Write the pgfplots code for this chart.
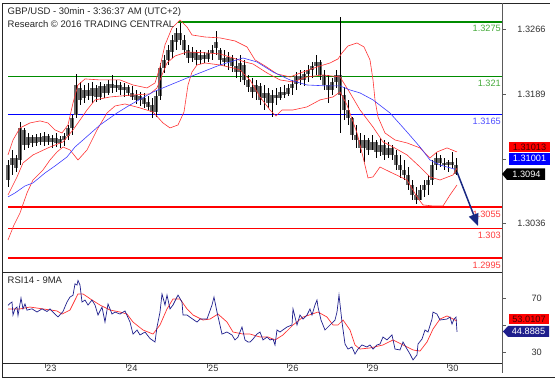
\documentclass[border=0pt]{standalone}
\usepackage{pgfplots}
\pgfplotsset{compat=1.18}
\usepackage{pgfplotstable}
\usepackage{fontspec}
\setmainfont{Liberation Sans}
\usetikzlibrary{arrows.meta}
\definecolor{lvgreen}{RGB}{0,140,0}
\definecolor{lvgreentxt}{RGB}{70,170,60}
\definecolor{lvblue}{RGB}{0,0,255}
\definecolor{lvbluetxt}{RGB}{80,80,255}
\definecolor{lvred}{RGB}{255,0,0}
\definecolor{lvredtxt}{RGB}{255,60,60}
\definecolor{bandred}{RGB}{255,50,50}
\definecolor{mablue}{RGB}{60,60,255}
\definecolor{rsinavy}{RGB}{30,30,140}
\definecolor{arrownavy}{RGB}{25,40,130}
\definecolor{candlegrey}{RGB}{105,105,105}
\definecolor{darkredtxt}{RGB}{70,0,0}
\definecolor{axisgrey}{RGB}{90,90,90}
\newcommand{\tf}{\fontsize{9.5}{11}\selectfont}
\newcommand{\rf}{\fontsize{9.2}{11}\selectfont}

\pgfplotstableread{
x hi lo o c
8 1.31111 1.30791 1.30874 1.31052
12 1.31230 1.30933 1.31052 1.31135
16 1.31171 1.30969 1.31135 1.31016
20 1.31562 1.31052 1.31111 1.31491
24 1.31491 1.31230 1.31467 1.31289
28 1.31431 1.31254 1.31289 1.31384
32 1.31408 1.31265 1.31384 1.31313
36 1.31419 1.31277 1.31313 1.31384
40 1.31431 1.31289 1.31384 1.31325
44 1.31443 1.31277 1.31325 1.31396
48 1.31419 1.31289 1.31396 1.31325
52 1.31408 1.31254 1.31325 1.31372
56 1.31431 1.31265 1.31372 1.31313
60 1.31396 1.31254 1.31313 1.31360
64 1.31431 1.31277 1.31348 1.31396
68 1.31526 1.31348 1.31396 1.31491
72 1.31645 1.31408 1.31491 1.31609
76 1.32131 1.31609 1.31645 1.32000
80 1.32036 1.31763 1.31965 1.31823
84 1.32000 1.31787 1.31846 1.31941
88 1.32024 1.31823 1.31941 1.31870
92 1.32036 1.31787 1.31870 1.31965
96 1.32000 1.31799 1.31965 1.31858
100 1.32036 1.31823 1.31858 1.31989
104 1.32012 1.31846 1.31989 1.31906
108 1.32060 1.31882 1.31906 1.32012
112 1.32119 1.31906 1.32012 1.31965
116 1.32060 1.31917 1.31965 1.32000
120 1.32036 1.31882 1.32000 1.31941
124 1.32024 1.31858 1.31941 1.31977
128 1.32000 1.31870 1.31977 1.31906
132 1.31989 1.31823 1.31906 1.31858
136 1.31941 1.31775 1.31882 1.31823
140 1.31917 1.31751 1.31823 1.31870
144 1.31906 1.31728 1.31846 1.31775
148 1.31870 1.31704 1.31799 1.31740
152 1.31846 1.31609 1.31763 1.31680
156 1.31941 1.31621 1.31680 1.31870
160 1.32261 1.31823 1.31870 1.32202
164 1.32356 1.32143 1.32202 1.32297
168 1.32475 1.32237 1.32297 1.32415
172 1.32593 1.32320 1.32392 1.32534
176 1.32676 1.32415 1.32510 1.32617
180 1.32735 1.32475 1.32617 1.32534
184 1.32593 1.32356 1.32534 1.32415
188 1.32475 1.32261 1.32415 1.32320
192 1.32451 1.32273 1.32320 1.32392
196 1.32415 1.32237 1.32392 1.32297
200 1.32415 1.32249 1.32297 1.32356
204 1.32392 1.32261 1.32356 1.32309
208 1.32415 1.32273 1.32309 1.32380
212 1.32475 1.32297 1.32380 1.32415
216 1.32641 1.32356 1.32439 1.32510
220 1.32439 1.32237 1.32415 1.32297
224 1.32415 1.32226 1.32320 1.32273
228 1.32392 1.32178 1.32273 1.32332
232 1.32356 1.32154 1.32320 1.32226
236 1.32320 1.32083 1.32226 1.32154
240 1.32356 1.32036 1.32154 1.32261
244 1.32297 1.32000 1.32237 1.32060
248 1.32119 1.31917 1.32060 1.31977
252 1.32083 1.31846 1.31977 1.31917
256 1.32060 1.31823 1.31917 1.32000
260 1.32024 1.31763 1.31989 1.31823
264 1.32000 1.31704 1.31846 1.31906
268 1.31965 1.31728 1.31906 1.31787
272 1.31941 1.31621 1.31787 1.31882
276 1.31965 1.31763 1.31882 1.31846
280 1.31977 1.31823 1.31846 1.31917
284 1.32000 1.31846 1.31917 1.31882
288 1.32012 1.31870 1.31894 1.31965
292 1.32060 1.31882 1.31965 1.32012
296 1.32154 1.31941 1.32012 1.32107
300 1.32178 1.32000 1.32107 1.32060
304 1.32178 1.31989 1.32060 1.32131
308 1.32237 1.32036 1.32131 1.32178
312 1.32273 1.32083 1.32178 1.32226
316 1.32356 1.32119 1.32226 1.32273
320 1.32297 1.32060 1.32273 1.32119
324 1.32178 1.31941 1.32119 1.32000
328 1.32119 1.31787 1.32000 1.31941
332 1.32083 1.31882 1.31941 1.32036
336 1.32178 1.31965 1.32036 1.32119
340 1.32807 1.31431 1.32119 1.31882
344 1.31977 1.31585 1.31882 1.31704
348 1.31823 1.31526 1.31704 1.31609
352 1.31621 1.31348 1.31609 1.31408
356 1.31526 1.31254 1.31408 1.31348
360 1.31431 1.31194 1.31348 1.31254
364 1.31408 1.31088 1.31254 1.31348
368 1.31372 1.31171 1.31348 1.31230
372 1.31408 1.31230 1.31230 1.31325
376 1.31348 1.31135 1.31325 1.31206
380 1.31372 1.31159 1.31206 1.31289
384 1.31348 1.31111 1.31289 1.31171
388 1.31325 1.31135 1.31171 1.31254
392 1.31289 1.31111 1.31254 1.31171
396 1.31230 1.30993 1.31171 1.31052
400 1.31171 1.30898 1.31052 1.30993
404 1.31111 1.30874 1.30993 1.30933
408 1.31028 1.30756 1.30933 1.30815
412 1.30874 1.30637 1.30815 1.30696
416 1.30791 1.30590 1.30696 1.30637
420 1.30815 1.30637 1.30637 1.30756
424 1.30874 1.30673 1.30756 1.30815
428 1.30933 1.30696 1.30815 1.30874
432 1.31111 1.30815 1.30874 1.31052
436 1.31206 1.30993 1.31052 1.31135
440 1.31171 1.31028 1.31135 1.31076
444 1.31135 1.30993 1.31076 1.31052
448 1.31111 1.30969 1.31052 1.31088
452 1.31206 1.31016 1.31088 1.31052
456 1.31135 1.30933 1.31052 1.30945
}\candles

\begin{document}
\begin{tikzpicture}
\useasboundingbox (0,0) rectangle (557pt,380pt);

% ---------------- main price panel ----------------
\begin{axis}[at={(2pt,108pt)}, anchor=south west, scale only axis,
  width=500pt, height=269pt, xmin=2, xmax=502, ymin=1.29783, ymax=1.32972,
  axis line style={draw=none}, ticks=none, clip=false]

% level lines
\addplot[lvgreen, line width=1.6pt, forget plot] coordinates {(178,1.3275) (502,1.3275)};
\addplot[lvgreen, line width=1.6pt, forget plot] coordinates {(8,1.3210) (502,1.3210)};
\addplot[lvblue, line width=1.6pt, forget plot] coordinates {(8,1.3165) (502,1.3165)};
\addplot[lvred, line width=1.6pt, forget plot] coordinates {(8,1.3055) (502,1.3055)};
\addplot[lvred, line width=1.6pt, forget plot] coordinates {(8,1.3030) (502,1.3030)};
\addplot[lvred, line width=1.6pt, forget plot] coordinates {(8,1.2995) (502,1.2995)};

% candles: body (grey, thick) then wick (black, thin)
\addplot[draw=none, mark=none, forget plot,
  error bars/.cd, y dir=plus, y explicit, error mark=none,
  error bar style={line width=3.2pt, candlegrey}]
  table[x=x, y=o, y error plus expr={\thisrow{c}-\thisrow{o}}] {\candles};
\addplot[draw=none, mark=none, forget plot,
  error bars/.cd, y dir=plus, y explicit, error mark=none,
  error bar style={line width=0.6pt, black}]
  table[x=x, y=lo, y error plus expr={\thisrow{hi}-\thisrow{lo}}] {\candles};

% Bollinger upper
\addplot[bandred, line width=0.6pt] coordinates {
(8,1.31171) (13,1.31348) (20,1.31491) (30,1.31550) (40,1.31574) (48,1.31550) (55,1.31467) (62,1.31431) (68,1.31526) (73,1.31787) (78,1.32000) (85,1.32072) (100,1.32060) (120,1.32060) (133,1.32000) (147,1.31965) (155,1.32024) (160,1.32214) (165,1.32475) (172,1.32676) (180,1.32771) (187,1.32688) (192,1.32593) (205,1.32569) (220,1.32558) (235,1.32522) (247,1.32451) (255,1.32297) (265,1.32226) (277,1.32131) (290,1.32095) (303,1.32154) (317,1.32214) (330,1.32261) (338,1.32309) (342,1.32380) (348,1.32463) (357,1.32498) (364,1.32451) (370,1.32297) (373,1.32060) (375,1.31823) (378,1.31621) (385,1.31431) (395,1.31348) (407,1.31313) (420,1.31254) (430,1.31135) (437,1.31206) (447,1.31254) (457,1.31206)};
% Bollinger middle
\addplot[bandred, line width=0.6pt] coordinates {
(8,1.30696) (17,1.30910) (23,1.31076) (33,1.31171) (50,1.31265) (63,1.31325) (73,1.31467) (80,1.31585) (87,1.31704) (95,1.31823) (110,1.31858) (133,1.31882) (150,1.31894) (157,1.31965) (162,1.32119) (167,1.32261) (175,1.32344) (187,1.32392) (207,1.32380) (220,1.32368) (233,1.32320) (245,1.32273) (253,1.32249) (267,1.32143) (280,1.32060) (293,1.32036) (307,1.32095) (323,1.32119) (340,1.32095) (350,1.31906) (360,1.31704) (373,1.31502) (383,1.31325) (393,1.31265) (407,1.31171) (420,1.31028) (430,1.30910) (440,1.30874) (453,1.30933) (457,1.31013)};
% Bollinger lower
\addplot[bandred, line width=0.6pt] coordinates {
(8,1.30163) (14,1.30341) (20,1.30483) (27,1.30720) (33,1.30874) (43,1.30993) (50,1.31111) (57,1.31206) (63,1.31265) (70,1.31230) (78,1.31111) (87,1.31230) (97,1.31467) (107,1.31668) (115,1.31751) (125,1.31775) (140,1.31728) (153,1.31680) (163,1.31550) (170,1.31491) (178,1.31526) (184,1.31680) (188,1.32000) (192,1.32154) (197,1.32237) (205,1.32261) (220,1.32237) (233,1.32202) (240,1.32178) (250,1.32060) (260,1.31858) (270,1.31704) (276,1.31633) (282,1.31704) (293,1.31704) (307,1.31740) (320,1.31823) (333,1.31858) (340,1.31917) (347,1.31763) (357,1.31431) (363,1.31147) (368,1.30898) (373,1.30910) (380,1.31028) (390,1.30969) (407,1.30874) (417,1.30673) (423,1.30578) (433,1.30566) (443,1.30566) (450,1.30696) (457,1.30815)};
% moving average
\addplot[mablue, line width=0.6pt] coordinates {
(8,1.30673) (15,1.30720) (25,1.30803) (33,1.30839) (45,1.30957) (55,1.31040) (67,1.31147) (75,1.31265) (83,1.31348) (100,1.31526) (117,1.31668) (130,1.31763) (153,1.31917) (187,1.32083) (220,1.32237) (243,1.32320) (257,1.32273) (273,1.32154) (290,1.32060) (307,1.32000) (327,1.31989) (340,1.31989) (350,1.31941) (360,1.31906) (373,1.31823) (390,1.31668) (407,1.31443) (420,1.31265) (430,1.31111) (440,1.31052) (455,1.31001)};

% level labels
\node[anchor=east, inner sep=0, text=lvgreentxt, font=\rf] at ([yshift=-6.5pt]axis cs:501,1.3275) {1.3275};
\node[anchor=east, inner sep=0, text=lvgreentxt, font=\rf] at ([yshift=-6.5pt]axis cs:501,1.3210) {1.321};
\node[anchor=east, inner sep=0, text=lvbluetxt, font=\rf] at ([yshift=-6.5pt]axis cs:501,1.3165) {1.3165};
\node[anchor=east, inner sep=0, text=lvredtxt, font=\rf] at ([yshift=-7pt]axis cs:501,1.3055) {1.3055};
\node[anchor=east, inner sep=0, text=lvredtxt, font=\rf] at ([yshift=-7pt]axis cs:501,1.3030) {1.303};
\node[anchor=east, inner sep=0, text=lvredtxt, font=\rf] at ([yshift=-7pt]axis cs:501,1.2995) {1.2995};

% forecast arrow
\draw[arrownavy, line width=1.5pt, -{Triangle[length=12pt,width=10pt]}] (axis cs:457,1.30969) -- (axis cs:478,1.30329);

% right price scale
\draw[axisgrey, line width=0.6pt] (axis cs:502,1.3266) -- ++(4pt,0pt);
\draw[axisgrey, line width=0.6pt] (axis cs:502,1.3189) -- ++(4pt,0pt);
\draw[axisgrey, line width=0.6pt] (axis cs:502,1.3112) -- ++(4pt,0pt);
\draw[axisgrey, line width=0.6pt] (axis cs:502,1.3036) -- ++(4pt,0pt);
\node[font=\rf, inner sep=0, text=black!80] at ([xshift=29.5pt]axis cs:502,1.3266) {1.3266};
\node[font=\rf, inner sep=0, text=black!80] at ([xshift=29.5pt]axis cs:502,1.3189) {1.3189};
\node[font=\rf, inner sep=0, text=black!80] at ([xshift=29.5pt]axis cs:502,1.3036) {1.3036};
\end{axis}

% ---------------- RSI panel ----------------
\begin{axis}[at={(2pt,17pt)}, anchor=south west, scale only axis,
  width=500pt, height=91pt, xmin=2, xmax=502, ymin=21.85, ymax=89.26,
  axis line style={draw=none}, ticks=none, clip=false]
\addplot[bandred, line width=0.7pt] coordinates {
(8,61.9) (20,61.9) (30,63.3) (43,61.9) (57,60.4) (62,58.1) (70,61.1) (78,73.0) (83,73.0) (92,68.5) (100,64.8) (110,61.1) (120,59.6) (127,58.1) (133,52.2) (143,46.3) (153,43.3) (160,50.0) (167,61.9) (173,69.3) (180,69.3) (187,61.9) (193,57.4) (203,53.7) (210,54.4) (218,58.1) (227,52.2) (233,44.8) (243,43.3) (250,43.3) (260,41.1) (268,41.1) (275,38.9) (283,42.6) (293,50.0) (303,55.9) (312,58.1) (318,59.6) (327,55.9) (333,50.0) (338,50.0) (343,53.7) (350,46.3) (355,35.2) (360,32.2) (370,33.0) (383,35.2) (393,38.9) (403,35.2) (413,31.5) (420,30.7) (427,37.4) (433,47.0) (440,54.4) (447,56.7) (455,53.7) (457,53.01)};
\addplot[rsinavy, line width=0.7pt] coordinates {
(8,64.6) (10,66) (12,67) (13,57.4) (15,62) (17,63.3) (18,57) (21,70) (23,62) (25,65.6) (27,61) (32,62) (37,59.6) (42,62) (47,60) (50,61.9) (55,58) (58,56) (63,60) (67,67) (70,70.7) (73,72) (75,80.5) (77,79.6) (78,83) (80,79.6) (82,67) (85,68.5) (88,64.8) (92,68.5) (95,64.8) (98,57.4) (102,63.3) (105,52.2) (108,65.6) (112,58.1) (115,59.6) (120,58.1) (125,60.4) (130,52.2) (133,43.3) (137,46.3) (140,42.6) (145,44.8) (150,40) (155,37.4) (157,48.5) (160,59.6) (162,73) (165,64.8) (167,72.2) (170,61.9) (173,64.8) (178,72.2) (182,67) (183,57.4) (187,57.4) (192,54.7) (197,52.2) (200,54.4) (207,54.4) (212,64.8) (214,70.7) (217,59.6) (222,43.3) (227,44.8) (232,42.6) (235,38.9) (238,41.1) (242,48.5) (245,38.9) (248,37.4) (250,37.4) (253,39.6) (257,43.3) (260,44.8) (263,38.9) (267,41.1) (270,38.9) (273,39.6) (275,35.2) (277,46.3) (280,44.8) (287,48.5) (292,50) (293,61.9) (297,50) (300,57.4) (303,54.4) (307,57.4) (310,61.9) (312,57.4) (315,64.8) (317,68.5) (318,63.3) (321,53.7) (325,46.3) (330,50) (335,53.7) (337,59.6) (339,72.2) (342,52.2) (345,35.9) (348,32.2) (352,33.7) (355,28.5) (358,32.2) (362,35.2) (367,33.7) (370,35.2) (373,32.2) (377,35.2) (380,35.9) (383,41.1) (387,38.9) (392,42.6) (395,32.2) (400,31.5) (403,37.4) (407,32.2) (410,28.5) (413,24.1) (417,27.8) (418,35.9) (422,39.6) (425,46.3) (428,44.8) (432,54.4) (433,59.6) (437,58.1) (440,53.7) (447,54.4) (450,55.9) (452,50.7) (454,54.4) (456,55.9) (457,44.89)};

\draw[axisgrey, line width=0.6pt] (axis cs:502,70) -- ++(4pt,0pt);
\draw[axisgrey, line width=0.6pt] (axis cs:502,50) -- ++(4pt,0pt);
\draw[axisgrey, line width=0.6pt] (axis cs:502,30) -- ++(4pt,0pt);
\node[font=\rf, inner sep=0, text=black!80] at ([xshift=34.7pt]axis cs:502,70) {70};
\node[font=\rf, inner sep=0, text=black!80] at ([xshift=34.7pt]axis cs:502,30) {30};

\draw[axisgrey, line width=0.6pt] (axis cs:45,21.85) -- ++(0pt,-5.5pt);
\draw[axisgrey, line width=0.6pt] (axis cs:126,21.85) -- ++(0pt,-5.5pt);
\draw[axisgrey, line width=0.6pt] (axis cs:207,21.85) -- ++(0pt,-5.5pt);
\draw[axisgrey, line width=0.6pt] (axis cs:287,21.85) -- ++(0pt,-5.5pt);
\draw[axisgrey, line width=0.6pt] (axis cs:367,21.85) -- ++(0pt,-5.5pt);
\draw[axisgrey, line width=0.6pt] (axis cs:447,21.85) -- ++(0pt,-5.5pt);
\node[font=\rf, inner sep=0, anchor=west, text=black!80] at ([xshift=1pt,yshift=-5.5pt]axis cs:45,21.85) {23};
\node[font=\rf, inner sep=0, anchor=west, text=black!80] at ([xshift=1pt,yshift=-5.5pt]axis cs:126,21.85) {24};
\node[font=\rf, inner sep=0, anchor=west, text=black!80] at ([xshift=1pt,yshift=-5.5pt]axis cs:207,21.85) {25};
\node[font=\rf, inner sep=0, anchor=west, text=black!80] at ([xshift=1pt,yshift=-5.5pt]axis cs:287,21.85) {26};
\node[font=\rf, inner sep=0, anchor=west, text=black!80] at ([xshift=1pt,yshift=-5.5pt]axis cs:367,21.85) {29};
\node[font=\rf, inner sep=0, anchor=west, text=black!80] at ([xshift=1pt,yshift=-5.5pt]axis cs:447,21.85) {30};
\end{axis}

% ---------------- frame and annotations ----------------
\draw[black!85, line width=0.8pt] (2pt,377pt) -- (550pt,377pt);
\draw[black!85, line width=0.8pt] (2pt,3pt) -- (555pt,3pt);
\draw[black!85, line width=0.8pt] (2pt,3pt) -- (2pt,377pt);
\draw[axisgrey, line width=0.8pt] (502pt,7pt) -- (502pt,377pt);
\draw[black!85, line width=0.8pt] (2pt,108pt) -- (502pt,108pt);
\draw[black!85, line width=0.8pt] (2pt,17pt) -- (502pt,17pt);

\node[anchor=west, inner sep=0, font=\tf, text=black!85] at (7.5pt,368pt) {GBP/USD - 30min - 3:36:37 AM (UTC+2)};
\node[anchor=west, inner sep=0, font=\tf, text=black!85] at (7.5pt,356.3pt) {Research © 2016 TRADING CENTRAL};
\node[anchor=west, inner sep=0, font=\tf, text=black!85] at (7.5pt,100pt) {RSI14 - 9MA};

% value boxes
\fill[red] (508.7pt,228.3pt) rectangle (550.3pt,237.7pt);
\node[font=\rf, inner sep=0, text=darkredtxt] at (529.5pt,233pt) {1.31013};
\fill[blue] (508.7pt,215pt) rectangle (550.3pt,227.3pt);
\node[font=\rf, inner sep=0, text=white] at (529.5pt,221.2pt) {1.31001};
\fill[black] (502pt,206pt) -- (507pt,200pt) -- (545pt,200pt) -- (545pt,211.7pt) -- (507pt,211.7pt) -- cycle;
\node[font=\rf, inner sep=0, text=white] at (526.5pt,206pt) {1.3094};
\fill[red] (509pt,55.7pt) rectangle (549pt,65.7pt);
\node[font=\rf, inner sep=0, text=darkredtxt] at (529pt,60.7pt) {53.0107};
\fill[rsinavy] (503pt,48.5pt) -- (508pt,54pt) -- (549pt,54pt) -- (549pt,43pt) -- (508pt,43pt) -- cycle;
\node[font=\rf, inner sep=0, text=white] at (528.5pt,48.5pt) {44.8885};
\end{tikzpicture}
\end{document}
